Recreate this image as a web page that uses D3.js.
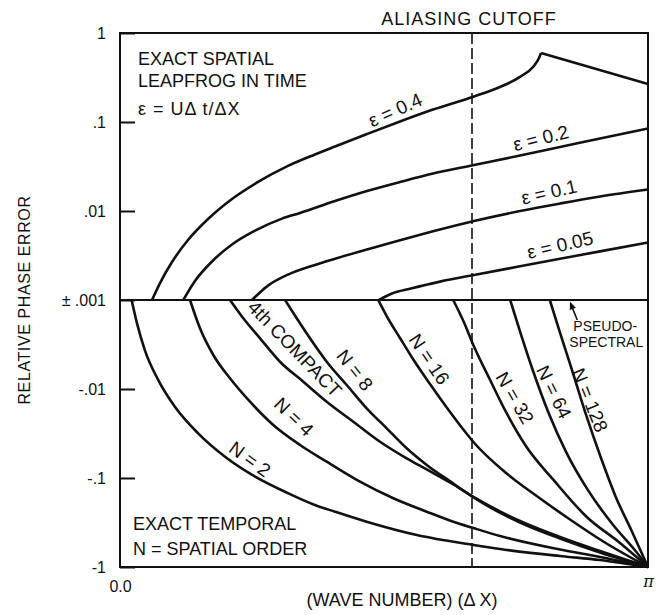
<!DOCTYPE html>
<html>
<head>
<meta charset="utf-8">
<title>Relative phase error vs wave number</title>
<script src="https://cdn.jsdelivr.net/npm/d3@7"></script>
<style>
  body { margin: 0; background: #fff; }
  svg text { font-family: "Liberation Sans", Arial, Helvetica, sans-serif; fill: #111; }
  .curve { fill: none; stroke: #111; stroke-width: 2.6px; stroke-linejoin: round; }
  .frame { fill: none; stroke: #111; stroke-width: 2px; }
  .zero { stroke: #111; stroke-width: 2px; }
  .cutoff { stroke: #111; stroke-width: 1.6px; stroke-dasharray: 11 4; }
  .axis line { stroke: #111; stroke-width: 2px; }
  .axis text { font-size: 16px; }
  .big { font-size: 18px; }
  .clabel { font-size: 19px; }
</style>
</head>
<body>
<svg id="chart" width="656" height="615"></svg>
<script>
// x: wave number in units of pi (0 .. 1 = pi), y: relative phase error
// upper half: leapfrog in time, exact spatial
const eps04 = [[0.0606,0.001],[0.0758,0.00155],[0.0985,0.00267],[0.1288,0.00472],[0.1667,0.00813],[0.2121,0.01365],[0.2614,0.0212],[0.3182,0.0321],[0.3693,0.0432],[0.4072,0.0531],[0.4678,0.0733],[0.5303,0.1014],[0.5928,0.138],[0.6705,0.1936],[0.7197,0.247],[0.7576,0.321],[0.7822,0.415],[0.7936,0.524],[0.7973,0.596]];
const eps04Alias = [[0.7973,0.596],[1.0,0.267]];
const eps02 = [[0.1199,0.001],[0.142,0.001635],[0.1742,0.002707],[0.2121,0.004204],[0.2557,0.006008],[0.3068,0.008215],[0.3409,0.0095],[0.4072,0.01295],[0.4678,0.01677],[0.5303,0.02118],[0.5928,0.02639],[0.6705,0.03287],[0.7576,0.04204],[0.8333,0.05237],[0.9091,0.06527],[1.0,0.0845]];
const eps01 = [[0.25,0.001],[0.2803,0.001451],[0.3182,0.00193],[0.3693,0.00248],[0.4072,0.00291],[0.4678,0.0037],[0.5303,0.0047],[0.5928,0.00591],[0.6705,0.00772],[0.7576,0.0100],[0.8333,0.01214],[0.9091,0.01455],[1.0,0.01745]];
const eps005 = [[0.4905,0.001],[0.5152,0.001183],[0.5492,0.001336],[0.6061,0.001609],[0.6705,0.00191],[0.7576,0.00239],[0.8333,0.0029],[0.9091,0.00352],[1.0,0.00443]];

// lower half: exact temporal, N = spatial order
const n2 = [[0.022,-0.001],[0.032,-0.00181],[0.047,-0.00365],[0.0725,-0.00793],[0.104,-0.0158],[0.148,-0.0315],[0.199,-0.0577],[0.256,-0.0966],[0.319,-0.149],[0.369,-0.201],[0.407,-0.239],[0.467,-0.310],[0.562,-0.437],[0.670,-0.566],[0.720,-0.628],[0.833,-0.752],[0.909,-0.834],[1.0,-1]];
const n4 = [[0.1326,-0.001],[0.1515,-0.00208],[0.1767,-0.00415],[0.2083,-0.00758],[0.2462,-0.01389],[0.2903,-0.02538],[0.3409,-0.04257],[0.3915,-0.06562],[0.4545,-0.110],[0.5176,-0.169],[0.5809,-0.2392],[0.6313,-0.3097],[0.671,-0.3674],[0.7197,-0.4485],[0.8333,-0.6358],[0.9091,-0.772],[1.0,-1]];
const compact4 = [[0.2083,-0.001],[0.2335,-0.001605],[0.2652,-0.002693],[0.303,-0.00494],[0.3472,-0.00828],[0.3915,-0.01389],[0.4419,-0.0233],[0.4924,-0.0391],[0.543,-0.0601],[0.5809,-0.0802],[0.6313,-0.1183],[0.671,-0.1656],[0.7576,-0.304],[0.8333,-0.460],[0.9091,-0.661],[1.0,-1]];
const n8 = [[0.3125,-0.001],[0.3347,-0.001605],[0.3598,-0.002693],[0.3915,-0.00494],[0.4294,-0.00902],[0.4672,-0.01648],[0.5051,-0.02764],[0.543,-0.0464],[0.5809,-0.0714],[0.6313,-0.1153],[0.671,-0.1678],[0.7576,-0.3162],[0.8333,-0.4784],[0.9091,-0.6873],[1.0,-1]];
const n16 = [[0.4892,-0.001],[0.5051,-0.001513],[0.5303,-0.002673],[0.5555,-0.004662],[0.5871,-0.00879],[0.6188,-0.01614],[0.6502,-0.0285],[0.671,-0.04044],[0.7324,-0.089],[0.7892,-0.1593],[0.8523,-0.2926],[0.9153,-0.517],[1.0,-1]];
const n32 = [[0.631,-0.001],[0.652,-0.00181],[0.670,-0.00329],[0.701,-0.00793],[0.732,-0.0186],[0.770,-0.0449],[0.821,-0.105],[0.884,-0.274],[0.947,-0.537],[1.0,-1]];
const n64 = [[0.739,-0.001],[0.758,-0.00229],[0.783,-0.00644],[0.811,-0.0181],[0.845,-0.0511],[0.886,-0.136],[0.934,-0.337],[0.975,-0.644],[1.0,-1]];
const n128 = [[0.814,-0.001],[0.833,-0.00229],[0.859,-0.00696],[0.884,-0.0206],[0.911,-0.0596],[0.939,-0.163],[0.970,-0.404],[1.0,-1]];

const cutoff = 2 / 3;   // aliasing cutoff, 2pi/3
const posTicks = [1, 0.1, 0.01, 0.001];
const posTickText = ["1", ".1", ".01", "\u00b1 .001"];
const negTicks = [0.01, 0.1, 1];
const negTickText = ["-.01", "-.1", "-1"];

// where the curve names sit (data coords) and their tilt
const curveLabels = [
  {text: "\u03b5 = 0.4", at: [0.521, 0.1365], angle: -24},
  {text: "\u03b5 = 0.2", at: [0.797, 0.066], angle: -14},
  {text: "\u03b5 = 0.1", at: [0.8125, 0.01635], angle: -13},
  {text: "\u03b5 = 0.05", at: [0.8333, 0.00415], angle: -13},
  {text: "N = 2", at: [0.2462, -0.0612], angle: 36},
  {text: "N = 4", at: [0.3295, -0.0205], angle: 44},
  {text: "4th COMPACT", at: [0.331, -0.00352], angle: 46},
  {text: "N = 8", at: [0.445, -0.00612], angle: 52},
  {text: "N = 16", at: [0.586, -0.00462], angle: 56},
  {text: "N = 32", at: [0.748, -0.0126], angle: 60},
  {text: "N = 64", at: [0.822, -0.0108], angle: 64},
  {text: "N = 128", at: [0.890, -0.0133], angle: 68}
];

const svg = d3.select("#chart");
const x = d3.scaleLinear().domain([0, 1]).range([120, 648]);
const yPos = d3.scaleLog().domain([0.001, 1]).range([300, 33]);
const yNeg = d3.scaleLog().domain([0.001, 1]).range([300, 567]);
const y = v => v >= 0 ? yPos(v) : yNeg(-v);

const smooth = d3.line().x(d => x(d[0])).y(d => y(d[1])).curve(d3.curveMonotoneX);
const straight = d3.line().x(d => x(d[0])).y(d => y(d[1]));

// cutoff line
svg.append("line").attr("class", "cutoff")
  .attr("x1", x(cutoff)).attr("x2", x(cutoff))
  .attr("y1", yPos(1)).attr("y2", yNeg(1));

const curves = svg.append("g");
[eps04, eps02, eps01, eps005, n2, n4, compact4, n8, n16, n32, n64, n128].forEach(s => {
  curves.append("path").attr("class", "curve").attr("d", smooth(s));
});
curves.append("path").attr("class", "curve").attr("d", straight(eps04Alias));

// frame and the +-.001 line
svg.append("rect").attr("class", "frame")
  .attr("x", x(0)).attr("y", yPos(1))
  .attr("width", x(1) - x(0)).attr("height", yNeg(1) - yPos(1));
svg.append("line").attr("class", "zero")
  .attr("x1", x(0)).attr("x2", x(1)).attr("y1", yPos(0.001)).attr("y2", yPos(0.001));

// y axes (ticks point inward)
svg.append("g").attr("class", "axis").attr("transform", `translate(${x(0)},0)`)
  .call(d3.axisLeft(yPos).tickValues(posTicks).tickSize(-15).tickPadding(14)
    .tickFormat((d, i) => posTickText[i]))
  .call(g => g.select(".domain").remove());
svg.append("g").attr("class", "axis").attr("transform", `translate(${x(0)},0)`)
  .call(d3.axisLeft(yNeg).tickValues(negTicks).tickSize(-15).tickPadding(14)
    .tickFormat((d, i) => negTickText[i]))
  .call(g => g.select(".domain").remove());

// x axis: only 0.0 and pi
svg.append("g").attr("class", "axis").attr("transform", `translate(0,${yNeg(1)})`)
  .call(d3.axisBottom(x).tickValues([0, 1]).tickSize(0).tickPadding(14)
    .tickFormat(d => d === 0 ? "0.0" : "\u03c0"))
  .call(g => g.select(".domain").remove())
  .call(g => g.selectAll(".tick text").filter(d => d === 1)
    .attr("dy", "0.4em").style("font-style", "italic").style("font-family", "DejaVu Serif"));

// titles
svg.append("text").attr("class", "big")
  .attr("transform", `translate(24,${yPos(0.001)}) rotate(-90)`)
  .attr("text-anchor", "middle").attr("dy", "0.35em")
  .style("font-size", "16px").style("letter-spacing", "0.6px")
  .text("RELATIVE PHASE ERROR");
svg.append("text").attr("class", "big")
  .attr("x", 402).attr("y", 606).attr("text-anchor", "middle")
  .text("(WAVE NUMBER) (\u0394 X)");
svg.append("text").attr("class", "big")
  .attr("x", x(cutoff) - 3).attr("y", 25).attr("text-anchor", "middle")
  .style("letter-spacing", "1px")
  .text("ALIASING CUTOFF");

// corner notes
const noteTop = svg.append("g").attr("class", "big").attr("transform", `translate(${x(0) + 18},0)`);
noteTop.append("text").attr("y", 65).text("EXACT SPATIAL");
noteTop.append("text").attr("y", 87).text("LEAPFROG IN TIME");
noteTop.append("text").attr("y", 115).style("letter-spacing", "1px").text("\u03b5 = U\u0394 t/\u0394X");
const noteBot = svg.append("g").attr("class", "big").attr("transform", `translate(${x(0) + 13},0)`);
noteBot.append("text").attr("y", 530).text("EXACT TEMPORAL");
noteBot.append("text").attr("y", 555).text("N = SPATIAL ORDER");

// curve names
svg.append("g").selectAll("text").data(curveLabels).join("text")
  .attr("class", "clabel")
  .attr("text-anchor", "middle").attr("dy", "0.35em")
  .attr("transform", d => `translate(${x(d.at[0])},${y(d.at[1])}) rotate(${d.angle})`)
  .text(d => d.text);

// pseudo-spectral note with arrow onto the line
const tail = [x(0.866), y(-0.00168)], tip = [x(0.852), y(-0.001) + 1.5];
const ang = Math.atan2(tip[1] - tail[1], tip[0] - tail[0]);
svg.append("line").attr("x1", tail[0]).attr("y1", tail[1])
  .attr("x2", tip[0] - 4 * Math.cos(ang)).attr("y2", tip[1] - 4 * Math.sin(ang))
  .attr("stroke", "#111").attr("stroke-width", 1.6);
const hw = 3.2, hl = 8;
svg.append("path").attr("fill", "#111")
  .attr("d", `M${tip[0]},${tip[1]}
    L${tip[0] - hl * Math.cos(ang) + hw * Math.sin(ang)},${tip[1] - hl * Math.sin(ang) - hw * Math.cos(ang)}
    L${tip[0] - hl * Math.cos(ang) - hw * Math.sin(ang)},${tip[1] - hl * Math.sin(ang) + hw * Math.cos(ang)}Z`);
const pseudo = svg.append("g").style("font-size", "14px").attr("text-anchor", "middle");
pseudo.append("text").attr("x", x(0.919)).attr("y", y(-0.00196)).attr("dy", "0.35em").text("PSEUDO-");
pseudo.append("text").attr("x", x(0.921)).attr("y", y(-0.00297)).attr("dy", "0.35em").text("SPECTRAL");
</script>
</body>
</html>
